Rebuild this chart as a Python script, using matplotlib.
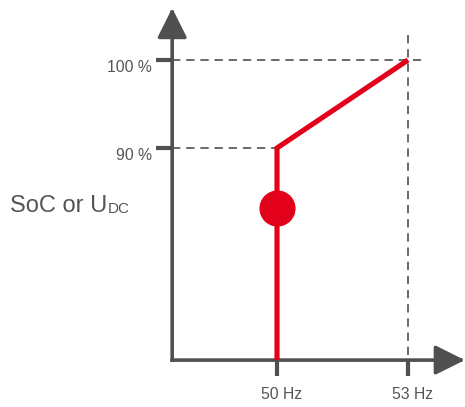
import matplotlib.pyplot as plt
from matplotlib.transforms import ScaledTranslation

plt.rcParams["font.family"] = ["Liberation Sans", "DejaVu Sans"]

# characteristic curve: SoC / U_DC against grid frequency
freq_hz = [50, 50, 53]
soc_pct = [65.9, 90, 100]
dot_hz = 50
dot_pct = 83.2

xticks = [50, 53]
xtick_labels = ["50 Hz", "53 Hz"]
yticks = [90, 100]
ytick_labels = ["90 %", "100 %"]

x0, y0 = 47.6, 65.9      # where the two axes cross
x_end, y_end = 54.3, 105.9  # arrow tips

gray = "#505050"
text_gray = "#555555"
red = "#E2001A"

fig = plt.figure(figsize=(4.65, 4.07), dpi=100)
ax = fig.add_axes([0, 0, 1, 1])
ax.set_xlim(43.657, 54.305)
ax.set_ylim(60.57, 106.82)
ax.patch.set_alpha(0)

for s in ["top", "right"]:
    ax.spines[s].set_visible(False)
ax.spines["left"].set_position(("data", x0))
ax.spines["bottom"].set_position(("data", y0))
for s in ["left", "bottom"]:
    ax.spines[s].set_color("none")

# axis lines with arrowheads
arrow = dict(arrowstyle="-|>,head_length=1.3,head_width=0.65", color=gray, lw=2.6,
             mutation_scale=14, shrinkA=0, shrinkB=0, capstyle="projecting")
ax.annotate("", xy=(x0, y_end), xytext=(x0, y0), arrowprops=arrow, annotation_clip=False)
ax.annotate("", xy=(x_end, y0), xytext=(x0, y0), arrowprops=arrow, annotation_clip=False)

ax.set_xticks(xticks)
ax.set_xticklabels(xtick_labels)
ax.set_yticks(yticks)
ax.set_yticklabels(ytick_labels)
ax.tick_params(axis="both", direction="out", length=11.5, width=3, color=gray,
               labelcolor=text_gray, labelsize=11.3)
ax.tick_params(axis="x", pad=8)
ax.tick_params(axis="y", pad=3)
for lab in ax.get_yticklabels():
    lab.set_transform(lab.get_transform() + ScaledTranslation(0, -0.055, fig.dpi_scale_trans))
for lab in ax.get_xticklabels():
    lab.set_transform(lab.get_transform() + ScaledTranslation(0.045, 0, fig.dpi_scale_trans))

# dashed guide lines
dash = dict(color=gray, lw=1.2, ls=(0, (5, 3.5)), zorder=1)
ax.plot([x0, 53.43], [100, 100], **dash)
ax.plot([x0, 50], [90, 90], **dash)
ax.plot([53, 53], [66.5, 103.07], **dash)

# curve
ax.plot(freq_hz, soc_pct, color=red, lw=3.7, solid_joinstyle="miter",
        solid_capstyle="butt", zorder=3)
ax.plot([dot_hz], [dot_pct], "o", color=red, ms=25, zorder=4)

# y label with small-caps subscript
t1 = ax.text(0.022, 0.466, "SoC or U", transform=ax.transAxes, fontsize=17,
             color=text_gray, ha="left", va="bottom")
ax.annotate("DC", xy=(1, 0), xycoords=t1, xytext=(0.5, 1.3), textcoords="offset points",
            fontsize=11, color=text_gray, ha="left", va="bottom")

fig.savefig("out.png", dpi=100)
